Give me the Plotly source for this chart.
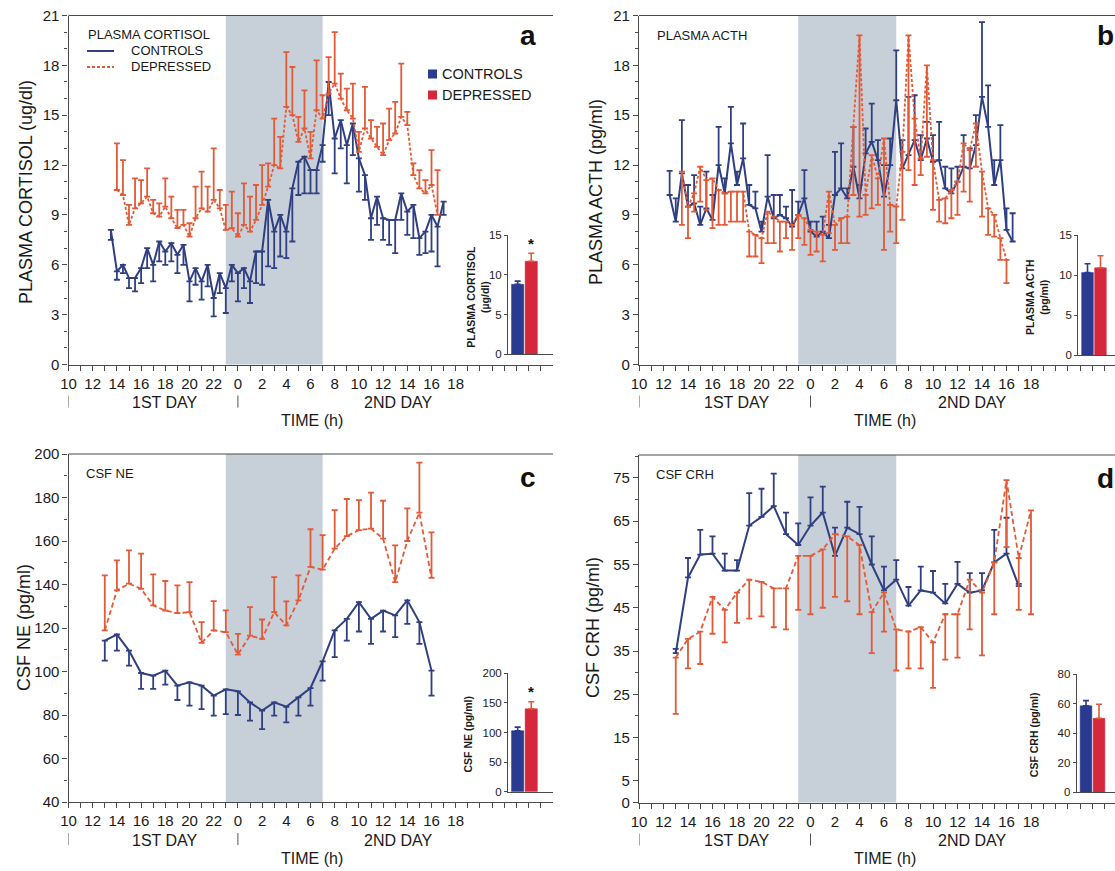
import plotly.graph_objects as go

W, H = 1115, 871

# ---------------- DATA ----------------
# time axis: hours on a continuous clock (10 = 10:00 day 1, 24 = 0:00 day 2, 42 = 18:00 day 2)
tick_hours = list(range(10, 50))
tick_labels = ["10", "12", "14", "16", "18", "20", "22", "0", "2", "4", "6", "8", "10", "12", "14", "16", "18"]
night_start, night_end = 23, 31

# Panel a - plasma cortisol (ug/dl), 30-min samples
ctrl_a_start = 13.5
ctrl_a = [8.1, 5.6, 6.0, 5.2, 5.2, 5.8, 7.0, 6.0, 7.4, 6.8, 7.3, 6.6, 7.2, 5.0, 5.8, 5.0,
          6.0, 4.0, 5.5, 4.6, 6.0, 5.5, 5.8, 5.0, 6.8, 6.8, 9.9, 8.0, 9.0, 8.0, 10.6, 12.2,
          12.5, 11.7, 11.7, 13.2, 17.0, 13.6, 14.7, 13.2, 14.5, 12.4, 11.4, 8.8, 10.1, 8.8,
          8.7, 8.7, 10.3, 9.2, 9.6, 7.6, 8.0, 9.0, 8.3, 9.8]
ctrl_a_sem = [0.6, 0.5, 0.5, 0.6, 0.8, 0.9, 1.2, 1.0, 1.2, 0.8, 1.1, 1.1, 1.2, 1.2, 1.0, 1.1,
              1.3, 1.1, 1.2, 1.5, 1.0, 1.7, 1.2, 1.3, 1.9, 2.0, 4.0, 2.2, 2.5, 1.6, 3.2, 2.0,
              2.2, 1.4, 1.4, 1.0, 2.0, 2.1, 1.7, 2.3, 1.9, 2.0, 1.5, 1.3, 1.7, 1.3,
              1.5, 2.0, 1.6, 1.4, 2.0, 1.0, 1.3, 2.2, 2.4, 0.8]
dep_a_start = 14.0
dep_a = [10.5, 10.2, 8.4, 9.4, 9.7, 10.1, 9.1, 8.9, 9.5, 8.8, 8.2, 8.4, 7.7, 8.8, 9.4, 9.2,
         9.9, 9.4, 8.1, 8.2, 7.7, 8.4, 8.0, 8.7, 9.6, 10.7, 12.0, 11.8, 15.5, 15.0, 13.4, 14.2,
         12.4, 15.3, 14.8, 16.3, 16.9, 16.0, 15.3, 14.8, 12.8, 14.2, 13.6, 13.1, 12.6, 13.5,
         13.9, 14.9, 14.4, 11.4, 10.6, 10.3, 10.8, 9.0]
dep_a_sem = [2.8, 2.1, 1.2, 1.8, 1.4, 1.7, 0.8, 0.8, 1.7, 1.3, 1.1, 0.9, 0.8, 1.9, 2.2, 1.5,
             3.1, 1.1, 1.5, 2.2, 1.4, 2.5, 2.1, 2.1, 2.4, 1.4, 2.8, 1.9, 3.3, 2.9, 1.5, 2.3,
             1.6, 3.0, 1.4, 2.2, 3.1, 1.5, 1.3, 2.1, 1.2, 2.5, 1.1, 1.2, 1.9, 1.9,
             1.9, 3.2, 0.8, 0.7, 1.1, 0.8, 2.1, 2.7]

# Panel b - plasma ACTH (pg/ml), 30-min samples
ctrl_b_start = 12.5
ctrl_b = [10.2, 8.6, 11.5, 9.5, 9.7, 8.4, 9.4, 8.7, 12.0, 10.3, 13.3, 10.8, 12.4, 9.6, 9.4, 8.0,
          10.1, 8.8, 9.0, 8.8, 8.3, 9.0, 10.0, 8.0, 7.7, 8.0, 7.6, 10.2, 10.6, 10.0, 11.9, 10.0,
          12.7, 13.4, 12.3, 10.1, 12.0, 15.9, 11.8, 12.6, 13.5, 12.3, 13.6, 12.2, 12.3, 10.6,
          10.3, 11.0, 11.9, 11.8, 13.2, 16.1, 14.3, 10.8, 12.3, 8.1, 7.4]
ctrl_b_sem = [1.45, 1.4, 3.2, 1.3, 1.7, 1.1, 2.2, 1.5, 2.3, 0.9, 2.2, 0.8, 2.1, 1.2, 1.0, 0.6,
              2.5, 1.4, 1.2, 0.7, 2.2, 0.8, 1.7, 0.6, 0.9, 0.9, 0.8, 2.6, 2.7, 0.6, 2.4, 0.8,
              1.5, 2.3, 1.2, 1.9, 1.6, 3.0, 1.7, 3.5, 2.7, 1.5, 1.0, 1.6, 2.3, 1.3,
              1.5, 0.9, 1.9, 1.2, 1.8, 4.5, 2.5, 1.5, 2.1, 1.3, 1.7]
dep_b_start = 13.5
dep_b = [11.6, 9.5, 10.3, 11.9, 11.1, 11.2, 10.5, 10.3, 10.4, 10.4, 10.4, 8.0, 7.8, 7.6, 9.2, 8.9,
         8.6, 8.6, 8.4, 9.0, 8.8, 8.1, 8.0, 7.8, 10.4, 8.4, 8.8, 8.9, 14.3, 19.8, 10.2, 12.6,
         11.2, 13.6, 9.6, 9.5, 12.8, 19.8, 14.8, 12.4, 18.0, 12.3, 9.9, 10.0, 10.5, 11.0,
         13.3, 12.9, 14.5, 11.6, 9.4, 9.0, 7.6, 6.3]
dep_b_sem = [3.2, 1.9, 1.1, 2.1, 1.8, 3.0, 2.1, 1.9, 1.8, 1.8, 1.8, 1.5, 1.3, 1.5, 1.9, 1.6,
             1.8, 1.0, 1.5, 1.4, 1.6, 1.5, 1.2, 1.6, 2.5, 1.5, 1.5, 1.6, 4.1, 10.9, 1.2, 3.2,
             1.6, 6.7, 1.6, 2.2, 4.1, 8.1, 4.0, 1.0, 5.5, 3.0, 1.3, 1.5, 1.7, 2.0,
             2.9, 3.1, 2.6, 2.7, 1.6, 1.3, 1.3, 1.4]

# Panel c - CSF NE (pg/ml), hourly samples
ctrl_c_start = 13
ctrl_c = [114.2, 117.0, 109.6, 99.3, 98.1, 100.4, 93.5, 95.0, 93.5, 88.9, 91.8, 90.9, 85.8, 82.0,
          85.8, 83.8, 88.1, 92.4, 104.7, 118.9, 124.2, 131.9, 124.2, 128.0, 125.8, 132.7, 122.7, 100.4]
ctrl_c_sem = [9.2, 7.4, 6.9, 7.3, 6.1, 6.4, 6.6, 10.7, 10.8, 9.2, 11.4, 10.9, 8.4, 8.5,
              6.1, 7.2, 8.4, 8.1, 8.9, 12.3, 10.0, 13.5, 11.5, 9.6, 10.0, 10.8, 10.0, 11.5]
dep_c_start = 13
dep_c = [118.9, 137.3, 140.4, 138.0, 130.4, 128.0, 126.8, 127.3, 113.2, 118.9, 118.1, 107.8, 116.5, 115.0,
         127.3, 121.2, 132.7, 148.1, 146.8, 156.5, 162.2, 165.0, 165.7, 161.1, 141.1, 160.0, 173.0, 143.0]
dep_c_sem = [25.3, 13.8, 15.3, 16.2, 14.3, 13.6, 12.8, 13.8, 9.5, 13.5, 10.0, 9.5, 13.1, 8.9,
             16.1, 11.0, 11.5, 17.3, 15.9, 17.7, 17.1, 13.8, 16.5, 17.4, 16.9, 15.0, 23.0, 21.0]

# Panel d - CSF CRH (pg/ml), hourly samples
ctrl_d_start = 13
ctrl_d = [34.5, 52.0, 57.3, 57.5, 53.6, 53.6, 64.0, 66.0, 68.5, 62.0, 59.5, 64.0, 67.0, 57.0, 63.5,
          62.0, 55.0, 49.0, 51.5, 45.5, 49.0, 48.5, 46.0, 50.5, 48.5, 49.0, 55.5, 57.5, 50.0]
ctrl_d_sem = [1.0, 4.5, 5.7, 4.0, 3.9, 2.4, 7.5, 6.5, 7.5, 5.0, 5.0, 6.5, 6.0, 6.5, 6.0,
              6.3, 6.5, 5.5, 4.5, 4.3, 5.5, 5.0, 4.5, 5.1, 4.5, 4.0, 7.5, 8.3, 0.5]
dep_d_start = 13
dep_d = [33.5, 37.8, 39.5, 47.5, 44.5, 48.5, 51.5, 51.0, 49.5, 49.5, 57.0, 57.0, 58.5, 62.0, 61.5,
         59.5, 44.0, 48.5, 40.0, 39.5, 40.5, 37.0, 43.5, 43.5, 51.5, 48.5, 55.5, 74.5, 56.5, 67.5]
dep_d_sem = [13.0, 6.8, 7.5, 8.5, 7.5, 7.0, 9.0, 8.0, 9.0, 9.5, 12.5, 13.5, 13.5, 14.5, 15.0,
             16.0, 9.5, 9.0, 9.5, 8.5, 9.5, 10.5, 10.5, 10.0, 11.5, 14.5, 12.0, 15.5, 12.0, 24.0]

# Inset bar charts: overall means (controls, depressed) and SEM
groups = ["CONTROLS", "DEPRESSED"]
mean_a, sem_a = [8.8, 11.7], [0.4, 1.0]
mean_b, sem_b = [10.3, 10.9], [1.1, 1.5]
mean_c, sem_c = [103.0, 140.0], [6.0, 12.0]
mean_d, sem_d = [58.5, 50.0], [3.5, 9.5]

# ---------------- STYLE ----------------
BLUE_LINE = "#2f3f80"
RED_LINE = "#e35a36"
BLUE_BAR = "#2a3a8e"
RED_BAR = "#d6283d"
SHADE = "#c7cfd9"
AXIS = "#4a4a4a"
TXT = "#1a1a1a"
FONT = "Liberation Sans, Arial, Helvetica, sans-serif"


def px(x):
    return x / W


def py(y):
    return 1 - y / H


def times(start, step, n):
    return [start + step * i for i in range(n)]


fig = go.Figure()

# panel geometry (pixels)
panels = {
    "a": dict(xa="x", ya="y", x0=68.5, x1=553, y0=364.5, y1=15.5, yr=[0, 21]),
    "b": dict(xa="x2", ya="y2", x0=639, x1=1115, y0=364.5, y1=15.5, yr=[0, 21]),
    "c": dict(xa="x3", ya="y3", x0=68.5, x1=553, y0=802, y1=454, yr=[40, 200]),
    "d": dict(xa="x4", ya="y4", x0=639, x1=1115, y0=802.5, y1=455, yr=[0, 80.3]),
}
pxh = {"a": 12.1, "b": 12.25, "c": 12.1, "d": 12.25}


def add_series(p, t, vals, sem, color, dash, down, width=2.0):
    n = len(vals)
    zeros = [0] * n
    fig.add_trace(go.Scatter(
        x=t, y=vals, mode="lines", xaxis=panels[p]["xa"], yaxis=panels[p]["ya"],
        line=dict(color=color, width=width, dash=dash),
        error_y=dict(type="data", symmetric=False,
                     array=zeros if down else sem,
                     arrayminus=sem if down else zeros,
                     color=color, thickness=1.8, width=3),
        hoverinfo="skip", showlegend=False))


add_series("a", times(ctrl_a_start, 0.5, len(ctrl_a)), ctrl_a, ctrl_a_sem, BLUE_LINE, "solid", True)
add_series("a", times(dep_a_start, 0.5, len(dep_a)), dep_a, dep_a_sem, RED_LINE, "3px,2px", False, 1.8)
add_series("b", times(ctrl_b_start, 0.5, len(ctrl_b)), ctrl_b, ctrl_b_sem, BLUE_LINE, "solid", False)
add_series("b", times(dep_b_start, 0.5, len(dep_b)), dep_b, dep_b_sem, RED_LINE, "3px,2px", True, 1.8)
add_series("c", times(ctrl_c_start, 1, len(ctrl_c)), ctrl_c, ctrl_c_sem, BLUE_LINE, "solid", True)
add_series("c", times(dep_c_start, 1, len(dep_c)), dep_c, dep_c_sem, RED_LINE, "5px,3px", False, 1.8)
add_series("d", times(ctrl_d_start, 1, len(ctrl_d)), ctrl_d, ctrl_d_sem, BLUE_LINE, "solid", False)
add_series("d", times(dep_d_start, 1, len(dep_d)), dep_d, dep_d_sem, RED_LINE, "5px,3px", True, 1.8)

layout = dict(width=W, height=H, margin=dict(l=0, r=0, t=0, b=0, autoexpand=False),
              paper_bgcolor="white", plot_bgcolor="rgba(0,0,0,0)",
              showlegend=False, font=dict(family=FONT, color=TXT))

tickvals = tick_hours
ticktext = []
for h in tick_hours:
    if h % 2 == 0 and h <= 42:
        ticktext.append(tick_labels[(h - 10) // 2])
    else:
        ticktext.append("")

ytick_major = {"a": [0, 3, 6, 9, 12, 15, 18, 21], "b": [0, 3, 6, 9, 12, 15, 18, 21],
               "c": [40, 60, 80, 100, 120, 140, 160, 180, 200],
               "d": [0, 5, 15, 25, 35, 45, 55, 65, 75]}
ytick_minor = {"a": 1, "b": 1, "c": 10, "d": 5}

shapes = []
annotations = []

for i, (p, g) in enumerate(panels.items()):
    k = "" if i == 0 else str(i + 1)
    xr = [10, 10 + (g["x1"] - g["x0"]) / pxh[p]]
    layout["xaxis" + k] = dict(
        domain=[px(g["x0"]), min(1.0, px(g["x1"]))], range=xr, anchor=g["ya"],
        tickmode="array", tickvals=tickvals, ticktext=ticktext,
        ticks="outside", ticklen=5, tickwidth=1, tickcolor=AXIS,
        showline=True, linecolor=AXIS, linewidth=1.2, showgrid=False, zeroline=False,
        automargin=False,
        tickfont=dict(size=15, color=TXT, family=FONT), fixedrange=True)
    layout["yaxis" + k] = dict(
        domain=[py(g["y0"]), py(g["y1"])], range=g["yr"], anchor=g["xa"],
        tickmode="array", tickvals=ytick_major[p],
        ticks="outside", ticklen=5, tickwidth=1, tickcolor=AXIS,
        minor=dict(ticks="outside", dtick=ytick_minor[p], ticklen=3, tickcolor=AXIS, tick0=0),
        showline=True, linecolor=AXIS, linewidth=1.2, showgrid=False, zeroline=False,
        automargin=False,
        tickfont=dict(size=15, color=TXT, family=FONT), fixedrange=True)
    # night shading
    shapes.append(dict(type="rect", xref=g["xa"], yref=g["ya"] + " domain",
                       x0=night_start, x1=night_end, y0=0, y1=1,
                       fillcolor=SHADE, line=dict(width=0), layer="below"))
    # top frame line
    shapes.append(dict(type="line", xref="paper", yref="paper",
                       x0=px(g["x0"]), x1=min(1.0, px(g["x1"])), y0=py(g["y1"]), y1=py(g["y1"]),
                       line=dict(color=AXIS, width=1)))
    # day markers
    base = g["y0"]
    for hh in (10, 24):
        shapes.append(dict(type="line", xref=g["xa"], yref="paper",
                           x0=hh, x1=hh, y0=py(base + 31), y1=py(base + 43),
                           line=dict(color="#555", width=1)))
    annotations.append(dict(x=18, y=py(base + 38), xref=g["xa"], yref="paper", text="1ST DAY",
                            showarrow=False, font=dict(size=16), xanchor="center", yanchor="middle"))
    annotations.append(dict(x=37.2, y=py(base + 38), xref=g["xa"], yref="paper", text="2ND DAY",
                            showarrow=False, font=dict(size=16), xanchor="center", yanchor="middle"))
    annotations.append(dict(x=30.1, y=py(base + 56), xref=g["xa"], yref="paper", text="TIME (h)",
                            showarrow=False, font=dict(size=16), xanchor="center", yanchor="middle"))

# y axis titles
ytitles = [("PLASMA CORTISOL (ug/dl)", 26, 192), ("PLASMA ACTH (pg/ml)", 596, 192),
           ("CSF NE (pg/ml)", 24, 628), ("CSF CRH (pg/ml)", 593, 628)]
for txt, xx, yy in ytitles:
    annotations.append(dict(x=px(xx), y=py(yy), xref="paper", yref="paper", text=txt, textangle=-90,
                            showarrow=False, font=dict(size=18), xanchor="center", yanchor="middle"))

# panel letters and titles
for txt, xx, yy in [("a", 528, 35), ("b", 1105, 35), ("c", 528, 477), ("d", 1105, 478)]:
    annotations.append(dict(x=px(xx), y=py(yy), xref="paper", yref="paper", text="<b>%s</b>" % txt,
                            showarrow=False, font=dict(size=28, color="#111"), xanchor="center", yanchor="middle"))
for txt, xx, yy in [("PLASMA CORTISOL", 86, 34), ("PLASMA ACTH", 655, 35), ("CSF NE", 84, 473), ("CSF CRH", 654, 475)]:
    annotations.append(dict(x=px(xx), y=py(yy), xref="paper", yref="paper", text=txt,
                            showarrow=False, font=dict(size=13), xanchor="left", yanchor="middle"))

# line legend in panel a
shapes.append(dict(type="line", xref="paper", yref="paper", x0=px(87), x1=px(114), y0=py(51), y1=py(51),
                   line=dict(color=BLUE_LINE, width=2)))
shapes.append(dict(type="line", xref="paper", yref="paper", x0=px(87), x1=px(114), y0=py(67), y1=py(67),
                   line=dict(color=RED_LINE, width=1.8, dash="3px,2px")))
annotations.append(dict(x=px(129), y=py(51), xref="paper", yref="paper", text="CONTROLS",
                        showarrow=False, font=dict(size=13), xanchor="left", yanchor="middle"))
annotations.append(dict(x=px(129), y=py(67), xref="paper", yref="paper", text="DEPRESSED",
                        showarrow=False, font=dict(size=13), xanchor="left", yanchor="middle"))

# bar legend in panel a
for col, yy, txt in [(BLUE_BAR, 74, "CONTROLS"), (RED_BAR, 95, "DEPRESSED")]:
    shapes.append(dict(type="rect", xref="paper", yref="paper", x0=px(428), x1=px(437),
                       y0=py(yy + 4.5), y1=py(yy - 4.5), fillcolor=col, line=dict(width=0)))
    annotations.append(dict(x=px(440), y=py(yy), xref="paper", yref="paper", text=txt,
                            showarrow=False, font=dict(size=14.5), xanchor="left", yanchor="middle"))

# ---------------- INSETS ----------------
insets = [
    dict(k="5", x0=508, x1=553, xr=[0.29, 3.6], y0=354.3, y1=235, yr=[0, 15], ticks=[0, 5, 10, 15],
         m=mean_a, s=sem_a, title="PLASMA CORTISOL<br>(µg/dl)", tx=478, star=True),
    dict(k="6", x0=1078.3, x1=1115, xr=[0.29, 3.12], y0=355, y1=235, yr=[0, 15], ticks=[0, 5, 10, 15],
         m=mean_b, s=sem_b, title="PLASMA ACTH<br>(pg/ml)", tx=1037, star=False),
    dict(k="7", x0=508, x1=553, xr=[0.29, 3.6], y0=791.7, y1=673.3, yr=[0, 200], ticks=[0, 50, 100, 150, 200],
         m=mean_c, s=sem_c, title="CSF NE (pg/ml)", tx=467, star=True),
    dict(k="8", x0=1076.7, x1=1115, xr=[0.285, 3.23], y0=792.3, y1=674, yr=[0, 80], ticks=[0, 20, 40, 60, 80],
         m=mean_d, s=sem_d, title="CSF CRH (pg/ml)", tx=1034, star=False),
]
for ins in insets:
    k = ins["k"]
    for j, (col, ecol) in enumerate([(BLUE_BAR, BLUE_BAR), (RED_BAR, RED_LINE)]):
        fig.add_trace(go.Bar(
            x=[j + 1], y=[ins["m"][j]], width=0.9, xaxis="x" + k, yaxis="y" + k,
            marker=dict(color=col, line=dict(color=col, width=0.5)),
            error_y=dict(type="data", symmetric=False, array=[ins["s"][j]], arrayminus=[0],
                         color=ecol, thickness=1.6, width=3),
            name=groups[j], hoverinfo="skip", showlegend=False))
    layout["xaxis" + k] = dict(domain=[px(ins["x0"]), min(1.0, px(ins["x1"]))], range=ins["xr"],
                               anchor="y" + k, showline=True, linecolor=AXIS, linewidth=1,
                               ticks="", showticklabels=False, showgrid=False, zeroline=False,
                               automargin=False, fixedrange=True)
    layout["yaxis" + k] = dict(domain=[py(ins["y0"]), py(ins["y1"])], range=ins["yr"], anchor="x" + k,
                               tickmode="array", tickvals=ins["ticks"], ticks="outside", ticklen=3,
                               tickcolor=AXIS, showline=True, linecolor=AXIS, linewidth=1,
                               showgrid=False, zeroline=False, automargin=False,
                               tickfont=dict(size=11.5, color=TXT, family=FONT), fixedrange=True)
    annotations.append(dict(x=px(ins["tx"]), y=py((ins["y0"] + ins["y1"]) / 2 + 2), xref="paper", yref="paper",
                            text="<b>%s</b>" % ins["title"], textangle=-90, showarrow=False,
                            font=dict(size=10.5), xanchor="center", yanchor="middle"))
    if ins["star"]:
        annotations.append(dict(x=2, y=ins["m"][1] + ins["s"][1], xref="x" + k, yref="y" + k,
                                text="<b>*</b>", showarrow=False, yshift=10,
                                font=dict(size=15, color="#111"), xanchor="center", yanchor="middle"))

layout["shapes"] = shapes
layout["annotations"] = annotations
fig.update_layout(**layout)
fig.write_html("out.html")
